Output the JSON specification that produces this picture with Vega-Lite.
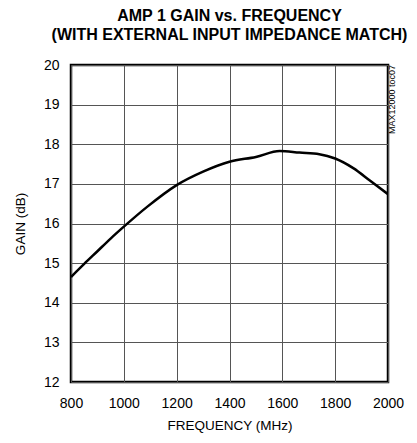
{
  "$schema": "https://vega.github.io/schema/vega-lite/v6.json",
  "width": 317,
  "height": 317,
  "autosize": {"type": "none"},
  "padding": {"left": 71, "top": 65, "right": 29, "bottom": 61},
  "background": "white",
  "title": {
    "text": ["AMP 1 GAIN vs. FREQUENCY", "(WITH EXTERNAL INPUT IMPEDANCE MATCH)"],
    "font": "Liberation Sans",
    "fontSize": 16,
    "fontWeight": "bold",
    "lineHeight": 19,
    "color": "black",
    "anchor": "middle",
    "offset": 15
  },
  "config": {
    "view": {"stroke": "black", "strokeWidth": 2.5},
    "axis": {
      "labelFont": "Liberation Sans",
      "titleFont": "Liberation Sans",
      "labelFontSize": 14,
      "titleFontSize": 13.5,
      "titleFontWeight": "normal",
      "labelColor": "black",
      "titleColor": "black",
      "domain": false,
      "ticks": false,
      "gridColor": "#555",
      "gridWidth": 1,
      "gridOpacity": 1
    }
  },
  "data": {
    "values": [
      {"freq": 800, "gain": 14.65},
      {"freq": 850, "gain": 14.98},
      {"freq": 900, "gain": 15.3},
      {"freq": 950, "gain": 15.62},
      {"freq": 1000, "gain": 15.92},
      {"freq": 1088, "gain": 16.42},
      {"freq": 1200, "gain": 16.97},
      {"freq": 1300, "gain": 17.31},
      {"freq": 1400, "gain": 17.56},
      {"freq": 1500, "gain": 17.68},
      {"freq": 1590, "gain": 17.83},
      {"freq": 1665, "gain": 17.79},
      {"freq": 1740, "gain": 17.75},
      {"freq": 1800, "gain": 17.64},
      {"freq": 1870, "gain": 17.39},
      {"freq": 1930, "gain": 17.09},
      {"freq": 2000, "gain": 16.74}
    ]
  },
  "layer": [
    {
      "mark": {"type": "line", "color": "black", "strokeWidth": 2.5, "interpolate": "monotone", "clip": true},
      "encoding": {
        "x": {
          "field": "freq",
          "type": "quantitative",
          "scale": {"domain": [800, 2000], "nice": false},
          "axis": {"title": "FREQUENCY (MHz)", "values": [800, 1000, 1200, 1400, 1600, 1800, 2000], "format": "d", "labelPadding": 14, "titlePadding": 8, "labelFlush": false}
        },
        "y": {
          "field": "gain",
          "type": "quantitative",
          "scale": {"domain": [12, 20], "nice": false, "zero": false},
          "axis": {"title": "GAIN (dB)", "values": [12, 13, 14, 15, 16, 17, 18, 19, 20], "format": "d", "labelPadding": 12, "titlePadding": 16}
        }
      }
    },
    {
      "data": {"values": [{"freq": 2000, "gain": 20, "label": "MAX12000 toc07"}]},
      "mark": {"type": "text", "angle": 270, "align": "right", "baseline": "top", "font": "Liberation Sans", "fontSize": 9, "color": "black", "dy": 0},
      "encoding": {
        "x": {
          "field": "freq",
          "type": "quantitative",
          "scale": {"domain": [800, 2000], "nice": false},
          "axis": {"title": "FREQUENCY (MHz)", "values": [800, 1000, 1200, 1400, 1600, 1800, 2000], "format": "d", "labelPadding": 14, "titlePadding": 8, "labelFlush": false}
        },
        "y": {
          "field": "gain",
          "type": "quantitative",
          "scale": {"domain": [12, 20], "nice": false, "zero": false},
          "axis": {"title": "GAIN (dB)", "values": [12, 13, 14, 15, 16, 17, 18, 19, 20], "format": "d", "labelPadding": 12, "titlePadding": 16}
        },
        "text": {"field": "label"}
      }
    }
  ]
}
